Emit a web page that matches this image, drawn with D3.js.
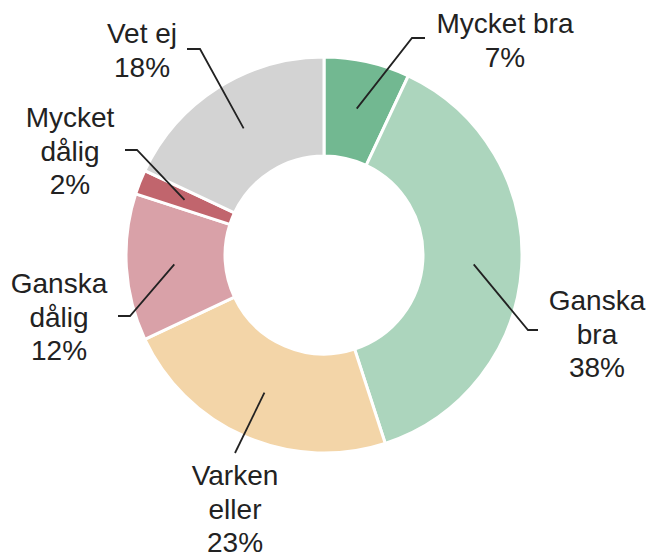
<!DOCTYPE html>
<html>
<head>
<meta charset="utf-8">
<script src="https://cdn.jsdelivr.net/npm/d3@7"></script>
<style>
  html, body { margin: 0; padding: 0; background: #fff; }
  svg text { font-family: "Liberation Sans", Arial, sans-serif; fill: #222; }
</style>
</head>
<body>
<div id="chart"></div>
<script>
// Data: answer categories, share in percent, colours
const categories = ['Mycket bra', 'Ganska bra', 'Varken eller', 'Ganska dålig', 'Mycket dålig', 'Vet ej'];
const labelLines = [['Mycket bra'], ['Ganska', 'bra'], ['Varken', 'eller'], ['Ganska', 'dålig'], ['Mycket', 'dålig'], ['Vet ej']];
const values = [7, 38, 23, 12, 2, 18];
const colors = ['#72b891', '#acd5bd', '#f3d5a8', '#d9a1a8', '#c1656d', '#d3d3d3'];

// Label layout, relative to the donut centre: text anchor (tx, ty first baseline),
// elbow of the leader line (ex, ey), end of the short horizontal tick (hx)
const labelLayout = [
  { tx: 181, ty: -222, ex: 88, ey: -217, hx: 101 },
  { tx: 273, ty: 55, ex: 204, ey: 75, hx: 214 },
  { tx: -89, ty: 230, ex: -89, ey: 198, hx: -89 },
  { tx: -265, ty: 38, ex: -194, ey: 61, hx: -206 },
  { tx: -254, ty: -128, ex: -187, ey: -105, hx: -199 },
  { tx: -182, ty: -212, ex: -124, ey: -206, hx: -137 }
];

const width = 650;
const height = 556;
const cx = 324, cy = 255;
const outerR = 198, innerR = 99, leaderR = 150;
const fontSize = 28, lineH = 33.5;

const svg = d3.select('#chart')
  .append('svg')
  .attr('width', width)
  .attr('height', height);

const g = svg.append('g').attr('transform', `translate(${cx},${cy})`);

const data = categories.map((c, i) => ({ name: c, value: values[i], i }));

const pie = d3.pie().value((d) => d.value).sort(null);
const arc = d3.arc().innerRadius(innerR).outerRadius(outerR);
const arcs = pie(data);

g.selectAll('path.slice')
  .data(arcs)
  .enter()
  .append('path')
  .attr('class', 'slice')
  .attr('d', arc)
  .attr('fill', (d) => colors[d.data.i])
  .attr('stroke', '#fff')
  .attr('stroke-width', 3);

// leader lines
g.selectAll('path.leader')
  .data(arcs)
  .enter()
  .append('path')
  .attr('class', 'leader')
  .attr('fill', 'none')
  .attr('stroke', '#222')
  .attr('stroke-width', 1.8)
  .attr('d', (d) => {
    const a = (d.startAngle + d.endAngle) / 2;
    const sx = Math.sin(a) * leaderR;
    const sy = -Math.cos(a) * leaderR;
    const L = labelLayout[d.data.i];
    return d3.line()([[sx, sy], [L.ex, L.ey], [L.hx, L.ey]]);
  });

// labels
const labels = g.selectAll('text.label')
  .data(arcs)
  .enter()
  .append('text')
  .attr('class', 'label')
  .attr('text-anchor', 'middle')
  .style('font-size', fontSize + 'px');

labels.each(function (d) {
  const L = labelLayout[d.data.i];
  const lines = labelLines[d.data.i].concat([d.data.value + '%']);
  const t = d3.select(this);
  lines.forEach((ln, k) => {
    t.append('tspan')
      .attr('x', L.tx)
      .attr('y', L.ty + k * lineH)
      .text(ln);
  });
});
</script>
</body>
</html>
